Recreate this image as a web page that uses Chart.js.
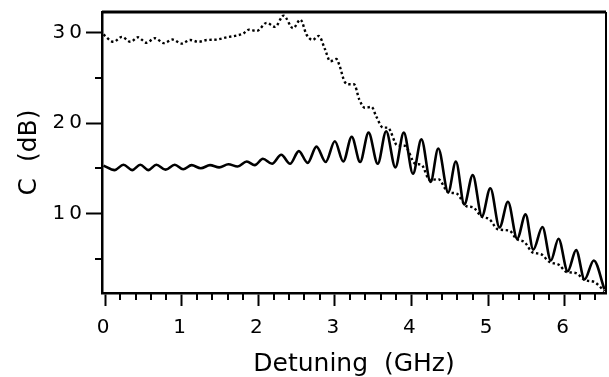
<!DOCTYPE html>
<html>
<head>
<meta charset="utf-8">
<script src="https://cdn.jsdelivr.net/npm/chart.js@4.4.1/dist/chart.umd.min.js"></script>
<style>
  html, body { margin: 0; padding: 0; background: #fff; }
  #grafico { display: block; }
</style>
</head>
<body>
<canvas id="grafico" width="609" height="377"></canvas>
<script>
// Curva continua (picos y valles)
const solidoX = [-0.02, 0.125, 0.24, 0.355, 0.46, 0.565, 0.67, 0.79, 0.91, 1.02, 1.13, 1.25, 1.37, 1.49, 1.61, 1.73,
  1.85, 1.955, 2.06, 2.18, 2.30, 2.415, 2.53, 2.645, 2.76, 2.88, 3.0, 3.11, 3.22, 3.33, 3.44, 3.56, 3.67, 3.79,
  3.90, 4.02, 4.13, 4.25, 4.35, 4.48, 4.58, 4.69, 4.80, 4.92, 5.03, 5.15, 5.26, 5.38, 5.49, 5.59, 5.71, 5.82,
  5.92, 6.04, 6.15, 6.26, 6.38, 6.52];
const solidoY = [15.3, 14.8, 15.4, 14.8, 15.4, 14.8, 15.4, 14.85, 15.4, 14.9, 15.35, 15.0, 15.35, 15.1, 15.45, 15.2,
  15.75, 15.35, 16.05, 15.5, 16.5, 15.5, 16.9, 15.6, 17.4, 15.7, 18.0, 15.75, 18.5, 15.7, 18.95, 15.5, 19.1, 15.1,
  18.95, 14.4, 18.2, 13.5, 17.2, 12.35, 15.75, 11.0, 14.25, 9.7, 12.8, 8.45, 11.3, 7.2, 9.9, 6.0, 8.5, 4.8,
  7.2, 3.6, 5.95, 2.7, 4.8, 1.6];

// Curva punteada
const punteadoX = [-0.02, 0.11, 0.22, 0.33, 0.43, 0.54, 0.65, 0.77, 0.88, 1.0, 1.11, 1.22, 1.33, 1.46, 1.59,
  1.72, 1.80, 1.88, 1.98, 2.11, 2.22, 2.33, 2.455, 2.55, 2.63, 2.71, 2.79, 2.87, 2.94, 3.02, 3.06, 3.13, 3.19,
  3.25, 3.32, 3.39, 3.48, 3.54, 3.63, 3.69, 3.82, 3.91, 4.05, 4.13, 4.24, 4.35, 4.48, 4.59, 4.72, 4.80, 4.91,
  5.02, 5.13, 5.28, 5.37, 5.48, 5.58, 5.69, 5.80, 5.93, 6.02, 6.15, 6.26, 6.39, 6.52];
const punteadoY = [29.8, 29.0, 29.55, 29.0, 29.5, 28.9, 29.4, 28.85, 29.25, 28.8, 29.2, 29.0, 29.2, 29.25, 29.5,
  29.7, 29.9, 30.35, 30.2, 31.1, 30.65, 31.9, 30.5, 31.45, 29.8, 29.2, 29.65, 28.2, 26.85, 27.1, 26.4, 24.55, 24.3,
  24.3, 22.6, 21.7, 21.8, 20.75, 19.5, 19.5, 17.5, 17.5, 15.5, 15.4, 13.7, 13.8, 12.35, 12.2, 10.8, 10.7, 9.7,
  9.35, 8.25, 8.1, 7.2, 6.8, 5.7, 5.5, 4.65, 4.3, 3.55, 3.4, 2.65, 2.4, 1.4];

// Marcas de los ejes
const ticksX = [0, 1, 2, 3, 4, 5, 6];
const ticksXMenores = [0.2, 0.4, 0.6, 0.8, 1.2, 1.4, 1.6, 1.8, 2.2, 2.4, 2.6, 2.8, 3.2, 3.4, 3.6, 3.8,
  4.2, 4.4, 4.6, 4.8, 5.2, 5.4, 5.6, 5.8, 6.2, 6.4];
const ticksY = [10, 20, 30];
const ticksYMenores = [5, 15, 25];

const fuente = "'DejaVu Sans', sans-serif";

function puntos(xs, ys) {
    return xs.map((x, i) => ({ x: x, y: ys[i] }));
}

// Marcas menores + marco superior y derecho
const ejesExtra = {
    id: 'ejesExtra',
    afterDatasetsDraw(chart) {
        chart.ctx.letterSpacing = '4px';
    },
    afterDraw(chart) {
        const { ctx, chartArea: a, scales } = chart;
        ctx.save();
        ctx.letterSpacing = '0px';
        ctx.strokeStyle = '#000';
        ctx.lineWidth = 2;
        ctx.beginPath();
        ticksXMenores.forEach(v => {
            const px = Math.round(scales.x.getPixelForValue(v));
            ctx.moveTo(px, a.bottom);
            ctx.lineTo(px, a.bottom + 7);
        });
        ticksYMenores.forEach(v => {
            const py = Math.round(scales.y.getPixelForValue(v));
            ctx.moveTo(a.left - 7, py);
            ctx.lineTo(a.left, py);
        });
        ctx.stroke();
        ctx.lineWidth = 3;
        ctx.beginPath();
        ctx.moveTo(a.left, a.top);
        ctx.lineTo(a.right, a.top);
        ctx.stroke();
        ctx.lineWidth = 2;
        ctx.beginPath();
        ctx.moveTo(a.right, a.top);
        ctx.lineTo(a.right, a.bottom);
        ctx.stroke();
        ctx.restore();
    }
};

new Chart(document.getElementById('grafico').getContext('2d'), {
    type: 'line',
    data: {
        datasets: [{
            data: puntos(solidoX, solidoY),
            borderColor: '#000',
            borderWidth: 2.6,
            pointRadius: 0,
            cubicInterpolationMode: 'monotone'
        }, {
            data: puntos(punteadoX, punteadoY),
            borderColor: '#000',
            borderWidth: 2.4,
            borderDash: [2.4, 2.6],
            pointRadius: 0,
            cubicInterpolationMode: 'monotone'
        }]
    },
    options: {
        responsive: false,
        animation: false,
        layout: { padding: { top: 7, right: 3, left: 0, bottom: 0 } },
        plugins: { legend: { display: false }, tooltip: { enabled: false } },
        scales: {
            x: {
                type: 'linear',
                min: -0.04,
                max: 6.54,
                afterBuildTicks: (eje) => { eje.ticks = ticksX.map(v => ({ value: v })); },
                afterFit: (eje) => { eje.height = 84; },
                grid: { drawOnChartArea: false, tickLength: 13, tickWidth: 2, tickColor: '#000' },
                border: { color: '#000', width: 2.5 },
                ticks: { color: '#000', font: { family: fuente, size: 20 }, padding: 10, maxRotation: 0, z: 1 },
                title: {
                    display: true,
                    text: 'Detuning  (GHz)',
                    color: '#000',
                    font: { family: fuente, size: 25, lineHeight: 1 },
                    padding: { top: 0, bottom: 0 }
                }
            },
            y: {
                type: 'linear',
                min: 1.2,
                max: 32.3,
                afterBuildTicks: (eje) => { eje.ticks = ticksY.map(v => ({ value: v })); },
                afterFit: (eje) => { eje.width = 102; },
                grid: { drawOnChartArea: false, tickLength: 16, tickWidth: 2, tickColor: '#000' },
                border: { color: '#000', width: 2.5 },
                ticks: { color: '#000', font: { family: fuente, size: 20 }, padding: 0, z: 1 },
                title: {
                    display: true,
                    text: 'C  (dB)',
                    color: '#000',
                    font: { family: fuente, size: 25, lineHeight: 1 },
                    padding: { top: 17, bottom: 0 }
                }
            }
        }
    },
    plugins: [ejesExtra]
});
</script>
</body>
</html>
